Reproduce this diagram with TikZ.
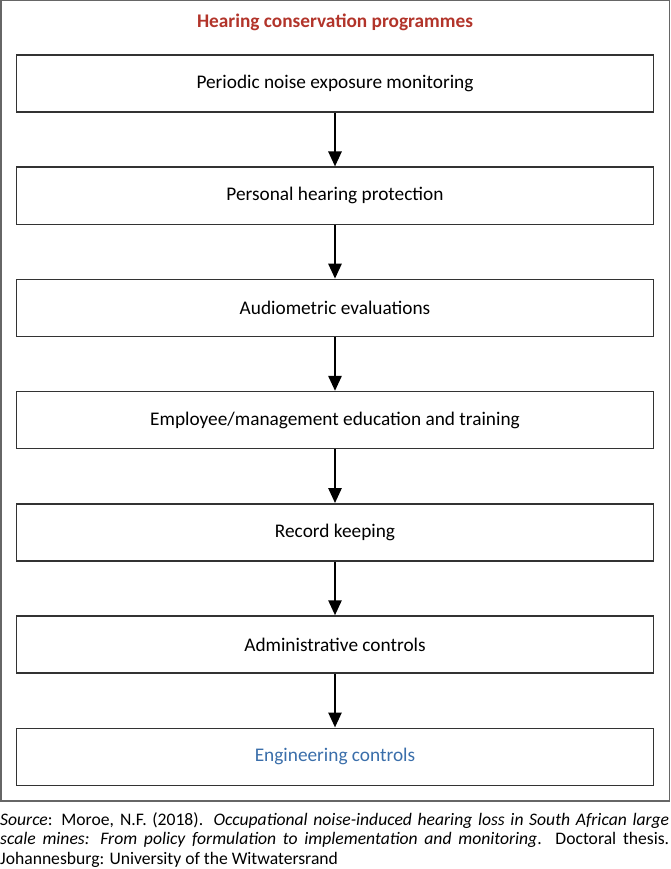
\documentclass[tikz,border=0pt]{standalone}
\usepackage{fontspec}
\setmainfont{Carlito}
\usetikzlibrary{positioning,arrows.meta}
\definecolor{titlered}{RGB}{178,52,42}
\definecolor{engblue}{RGB}{58,110,170}

\begin{document}
\begin{tikzpicture}[x=1pt,y=1pt,
    stepbox/.style={draw=black!80,line width=1.4pt,minimum width=637pt,minimum height=57pt,
      inner sep=0pt,font=\fontsize{19.3}{22}\selectfont},
    flow/.style={line width=2.6pt,-{Triangle[length=15pt,width=13pt]}},
    node distance=53.8pt]
  \useasboundingbox (0,0) rectangle (670,-869);
  \draw[black!60,line width=1.5pt] (0.75,-0.75) rectangle (669.25,-801);

  \node[anchor=base,inner sep=0pt,font=\fontsize{19.3}{22}\selectfont\bfseries,text=titlered] (title) at (335,-28) {Hearing conservation programmes};

  \node[stepbox] (monit) at (335,-83.5) {Periodic noise exposure monitoring};
  \node[stepbox,below=of monit] (protect) {Personal hearing protection};
  \node[stepbox,below=of protect] (audio) {Audiometric evaluations};
  \node[stepbox,below=of audio] (educ) {Employee/management education and training};
  \node[stepbox,below=of educ] (record) {Record keeping};
  \node[stepbox,below=of record] (admin) {Administrative controls};
  \node[stepbox,below=of admin,text=engblue] (engin) {Engineering controls};

  \foreach \a/\b in {monit/protect,protect/audio,audio/educ,educ/record,record/admin,admin/engin}
    \draw[flow] (\a) -- (\b);

  \node[anchor=north west,inner sep=0pt,text width=669pt,align=justify,
    font=\fontsize{17.6}{19.6}\selectfont] (source) at (0,-812)
    {\emph{Source}: Moroe, N.F. (2018). \emph{Occupational noise-induced hearing loss in South African large\linebreak
    scale mines: From policy formulation to implementation and monitoring}. Doctoral thesis.\linebreak
    Johannesburg: University of the Witwatersrand};
\end{tikzpicture}
\end{document}
